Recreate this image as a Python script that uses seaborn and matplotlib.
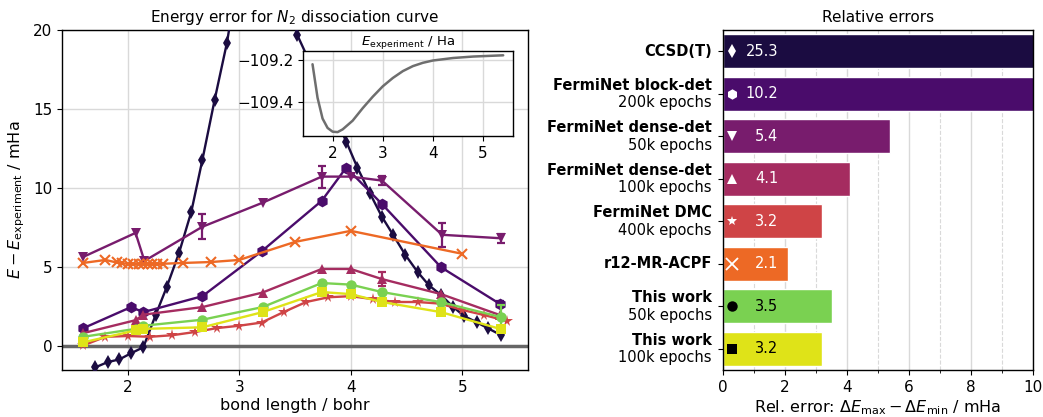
import matplotlib
matplotlib.use("Agg")
import matplotlib.pyplot as plt
import matplotlib.transforms as mtransforms
from matplotlib.ticker import MultipleLocator
import seaborn as sns

# --- Dados ---
ccsd_x = [1.71, 1.82, 1.925, 2.03, 2.14, 2.25, 2.35, 2.46, 2.57, 2.67, 2.78, 2.89,
          2.99, 3.10, 3.20, 3.31, 3.42, 3.52, 3.96, 4.06, 4.17, 4.28, 4.38, 4.49,
          4.60, 4.70, 4.81, 4.92, 5.02, 5.13, 5.23, 5.35]
ccsd_y = [-1.33, -1.0, -0.83, -0.44, -0.06, 1.97, 3.75, 5.9, 8.5, 11.8, 15.6, 19.2,
          23.5, 27.0, 28.5, 27.5, 23.5, 19.7, 12.95, 11.3, 9.71, 8.19, 7.05, 5.78,
          4.7, 3.87, 3.24, 2.48, 1.9, 1.52, 1.14, 0.7]

block_x = [1.60, 2.03, 2.14, 2.67, 3.20, 3.74, 3.96, 4.28, 4.81, 5.34]
block_y = [1.14, 2.48, 2.16, 3.17, 6.0, 9.2, 11.3, 9.0, 5.0, 2.67]
block_err = [0, 0, 0, 0, 0, 0, 0, 0, 0, 0.2]

dense50_x = [1.60, 2.07, 2.15, 2.67, 3.21, 3.74, 4.0, 4.28, 4.82, 5.35]
dense50_y = [5.65, 7.17, 5.4, 7.56, 9.08, 10.73, 10.73, 10.48, 7.05, 6.83]
dense50_err = [0, 0, 0, 0.8, 0, 0.7, 0, 0.3, 0.77, 0.3]

dense100_x = [1.60, 2.07, 2.14, 2.67, 3.21, 3.74, 4.0, 4.28, 4.81, 5.34]
dense100_y = [0.83, 1.65, 2.0, 2.48, 3.4, 4.89, 4.89, 4.25, 3.3, 1.97]
dense100_err = [0, 0, 0, 0, 0, 0, 0, 0.45, 0, 0]

dmc_x = [1.6, 1.8, 2.0, 2.2, 2.4, 2.6, 2.8, 3.0, 3.2, 3.4, 3.6, 3.8, 4.0, 4.2,
         4.4, 4.6, 4.8, 5.0, 5.2, 5.4]
dmc_y = [0.05, 0.6, 0.65, 0.6, 0.7, 0.9, 1.15, 1.3, 1.5, 2.17, 2.8, 3.1, 3.17, 2.98,
         2.8, 2.8, 2.7, 2.3, 1.97, 1.6]

acpf_x = [1.6, 1.8, 1.9, 1.95, 2.0, 2.05, 2.1, 2.14, 2.18, 2.22, 2.26, 2.32, 2.5,
          2.75, 3.0, 3.5, 4.0, 5.0]
acpf_y = [5.27, 5.46, 5.3, 5.25, 5.22, 5.2, 5.2, 5.2, 5.2, 5.2, 5.2, 5.22, 5.27,
          5.33, 5.46, 6.6, 7.3, 5.85]

ours50_x = [1.60, 2.07, 2.14, 2.67, 3.21, 3.74, 4.0, 4.28, 4.81, 5.35]
ours50_y = [0.6, 1.1, 1.3, 1.68, 2.48, 4.0, 3.9, 3.43, 2.79, 1.84]
ours50_err = [0, 0, 0, 0, 0, 0, 0, 0, 0, 0.75]

ours100_x = [1.60, 2.07, 2.14, 2.67, 3.21, 3.74, 4.0, 4.28, 4.81, 5.35]
ours100_y = [0.25, 1.0, 1.1, 1.2, 2.16, 3.43, 3.3, 2.8, 2.16, 1.08]

# curva experimental (Ha)
exp_x = [1.6, 1.7, 1.8, 1.9, 2.0, 2.1, 2.2, 2.4, 2.6, 2.8, 3.0, 3.2, 3.4, 3.6,
         3.8, 4.0, 4.4, 4.8, 5.4]
exp_y = [-109.219, -109.38, -109.48, -109.525, -109.543, -109.545, -109.532,
         -109.49, -109.43, -109.375, -109.325, -109.285, -109.252, -109.228,
         -109.212, -109.201, -109.189, -109.182, -109.176]

# barras de erro relativo
method_names = ["CCSD(T)", "FermiNet block-det", "FermiNet dense-det", "FermiNet dense-det",
                "FermiNet DMC", "r12-MR-ACPF", "This work", "This work"]
method_epochs = ["", "200k epochs", "50k epochs", "100k epochs", "400k epochs", "",
                 "50k epochs", "100k epochs"]
rel_errors = [25.3, 10.2, 5.4, 4.1, 3.2, 2.1, 3.5, 3.2]

# --- Estilo ---
sns.set_theme(style="ticks")
plt.rcParams['font.family'] = ['DejaVu Sans']
plt.rcParams.update({
    "font.size": 11, "axes.labelsize": 11.5, "axes.titlesize": 11,
    "xtick.labelsize": 11, "ytick.labelsize": 11,
    "xtick.major.size": 3.5, "ytick.major.size": 3.5,
    "xtick.minor.size": 2, "ytick.minor.size": 2,
    "xtick.major.width": 0.8, "ytick.major.width": 0.8,
    "xtick.minor.width": 0.6, "ytick.minor.width": 0.6,
    "axes.labelpad": 2.5,
    "axes.edgecolor": "black", "text.color": "black", "axes.labelcolor": "black",
    "xtick.color": "black", "ytick.color": "black",
    "axes.linewidth": 1.0, "grid.color": "#d9d9d9", "grid.linewidth": 1.0,
})

inf = sns.color_palette("inferno", 8)
vir = sns.color_palette("viridis", as_cmap=True)
colors = [inf[0], inf[1], inf[2], inf[3], inf[4], inf[5], vir(0.8), vir(0.95)]
markers = ["d", "h", "v", "^", "*", "x", "o", "s"]

series = [
    (ccsd_x, ccsd_y, None),
    (block_x, block_y, block_err),
    (dense50_x, dense50_y, dense50_err),
    (dense100_x, dense100_y, dense100_err),
    (dmc_x, dmc_y, None),
    (acpf_x, acpf_y, None),
    (ours50_x, ours50_y, ours50_err),
    (ours100_x, ours100_y, None),
]

fig = plt.figure(figsize=(10.43, 4.17), dpi=100)

# --- Painel esquerdo: erro de energia ---
ax = fig.add_axes([0.0594, 0.1127, 0.4468, 0.8153])
ax.axhline(0, color="#666666", lw=2.5, zorder=1)
for (xs, ys, err), c, m in zip(series, colors, markers):
    ms = 8.5 if m in ("*", "h") else 7.5
    mew = 1.5 if m == "x" else 0
    sns.lineplot(x=xs, y=ys, ax=ax, color=c, marker=m, markersize=ms,
                 markeredgecolor=c, markeredgewidth=mew, lw=1.7, zorder=3)
    if err is not None:
        ex = [x for x, e in zip(xs, err) if e > 0]
        ey = [y for y, e in zip(ys, err) if e > 0]
        ee = [e for e in err if e > 0]
        ax.errorbar(ex, ey, yerr=ee, fmt="none", ecolor=c, elinewidth=1.6,
                    capsize=3, capthick=1.6, zorder=3)

ax.set_xlim(1.41, 5.59)
ax.set_ylim(-1.5, 20)
ax.xaxis.set_major_locator(MultipleLocator(1))
ax.yaxis.set_major_locator(MultipleLocator(5))
ax.grid(True, zorder=0)
ax.set_axisbelow(True)
ax.set_title("Energy error for $N_2$ dissociation curve")
ax.set_xlabel("bond length / bohr")
ax.set_ylabel(r"$E - E_\mathrm{experiment}$ / mHa", labelpad=4)

# inset com a curva experimental
axin = fig.add_axes([0.2905, 0.674, 0.2011, 0.2026])
axin.plot(exp_x, exp_y, color="#6e6e6e", lw=1.8)
axin.xaxis.set_major_locator(MultipleLocator(1))
axin.yaxis.set_major_locator(MultipleLocator(0.2))
axin.grid(True)
axin.set_title(r"$E_\mathrm{experiment}$ / Ha", fontsize=9.5, pad=3)
axin.set_facecolor("white")

# --- Painel direito: erros relativos ---
ax2 = fig.add_axes([0.6932, 0.1127, 0.2972, 0.8153])
sns.barplot(x=rel_errors, y=list(range(len(rel_errors))), hue=list(range(len(rel_errors))),
            palette=colors, orient="h", saturation=1, legend=False, width=0.8,
            ax=ax2, zorder=2)
ax2.set_xlim(0, 10)
ax2.xaxis.set_major_locator(MultipleLocator(2))
ax2.xaxis.set_minor_locator(MultipleLocator(1))
ax2.grid(True, axis="x", which="major", zorder=0)
ax2.grid(True, axis="x", which="minor", ls="--", lw=0.8, zorder=0)
ax2.set_axisbelow(True)
for s in ax2.spines.values():
    s.set_visible(True)
ax2.set_yticks(range(len(rel_errors)))
ax2.set_yticklabels([""] * len(rel_errors))
ax2.tick_params(axis="y", which="major", length=3.5, width=0.8, left=True)
ax2.set_ylim(len(rel_errors) - 0.5, -0.5)
ax2.set_title("Relative errors")
ax2.set_xlabel(r"Rel. error: $\Delta E_\mathrm{max} - \Delta E_\mathrm{min}$ / mHa")
ax2.set_ylabel("")

trans = mtransforms.blended_transform_factory(ax2.transAxes, ax2.transData)
for i, (name, ep, val, m) in enumerate(zip(method_names, method_epochs, rel_errors, markers)):
    fg = "black" if name == "This work" else "white"
    if ep:
        ax2.annotate(name, xy=(0, i), xycoords=trans, xytext=(-8, 6.3),
                     textcoords="offset points", ha="right", va="center",
                     fontweight="bold", fontsize=10.5)
        ax2.annotate(ep, xy=(0, i), xycoords=trans, xytext=(-8, -6.3),
                     textcoords="offset points", ha="right", va="center", fontsize=10.5)
    else:
        ax2.annotate(name, xy=(0, i), xycoords=trans, xytext=(-8, 0),
                     textcoords="offset points", ha="right", va="center",
                     fontweight="bold", fontsize=10.5)
    ms = 8 if m == "x" else 7.5
    mew = 1.3 if m == "x" else 0
    ax2.plot([0.3], [i], marker=m, color=fg, markersize=ms, markeredgecolor=fg,
             markeredgewidth=mew, ls="none", zorder=4)
    ax2.text(1.78, i, f"{val:.1f}", color=fg, ha="right", va="center",
             fontsize=10.5, zorder=4)

fig.savefig("out.png", dpi=100)
